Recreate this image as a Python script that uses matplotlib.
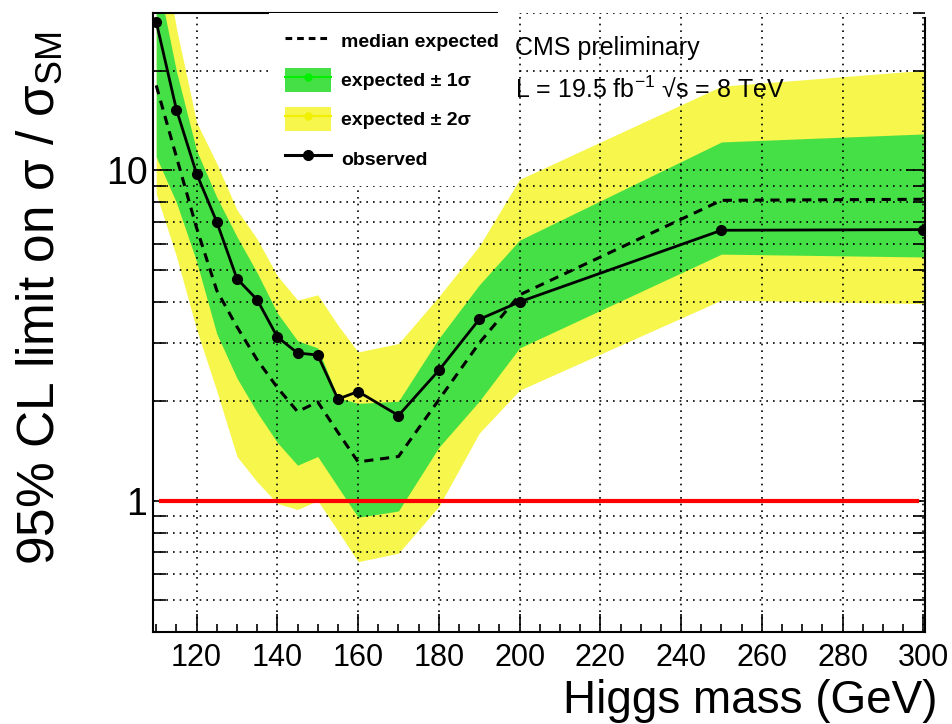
import matplotlib

matplotlib.use("Agg")
import matplotlib.pyplot as plt
from matplotlib.lines import Line2D
from matplotlib.patches import Patch
from matplotlib.ticker import LogLocator, MultipleLocator, FuncFormatter, NullFormatter

plt.rcParams["font.family"] = ["Liberation Sans", "DejaVu Sans"]
plt.rcParams["mathtext.fontset"] = "custom"
plt.rcParams["mathtext.rm"] = "Liberation Sans"
plt.rcParams["mathtext.it"] = "Liberation Sans:italic"

# Higgs mass points (GeV) and 95% CL limits on sigma / sigma_SM
mass = [110, 115, 120, 125, 130, 135, 140, 145, 150, 155, 160, 170, 180, 190, 200, 250, 300]
observed = [28.2, 15.3, 9.78, 6.98, 4.70, 4.06, 3.13, 2.80, 2.76, 2.03, 2.14, 1.81, 2.48, 3.54, 4.0, 6.59, 6.62]
expected = [18.1, 11.0, 6.7, 4.33, 3.36, 2.67, 2.2, 1.86, 1.99, 1.61, 1.31, 1.36, 2.02, 3.0, 4.2, 8.12, 8.18]
exp_1sig_up = [40.0, 20.0, 11.5, 8.3, 6.3, 4.9, 3.7, 3.05, 2.9, 2.05, 1.97, 2.0, 3.1, 4.5, 6.15, 12.2, 12.9]
exp_1sig_dn = [11.0, 8.0, 5.3, 3.2, 2.35, 1.85, 1.5, 1.28, 1.36, 1.1, 0.89, 0.93, 1.45, 2.0, 2.9, 5.58, 5.47]
exp_2sig_up = [60.0, 27.0, 14.0, 10.5, 7.6, 6.2, 4.8, 4.05, 4.2, 3.4, 2.82, 2.99, 4.15, 5.9, 9.4, 18.0, 20.1]
exp_2sig_dn = [8.5, 5.5, 3.3, 2.15, 1.36, 1.14, 0.98, 0.94, 1.0, 0.81, 0.653, 0.693, 0.96, 1.6, 2.16, 4.05, 3.95]

legend_labels = ["median expected", "expected \u00b1 1\u03c3", "expected \u00b1 2\u03c3", "observed"]

GREEN = "#45e045"
YELLOW = "#f6f64c"

fig = plt.figure(figsize=(9.52, 7.24), dpi=100)
ax = fig.add_axes([0.1607, 0.1271, 0.8109, 0.855])

ax.fill_between(mass, exp_2sig_dn, exp_2sig_up, color=YELLOW, lw=0, zorder=1)
ax.fill_between(mass, exp_1sig_dn, exp_1sig_up, color=GREEN, lw=0, zorder=1.1)
ax.axhline(1.0, xmin=0.01, xmax=0.99, color="#ff0000", lw=3.0, zorder=3)
ax.plot(mass, expected, color="k", lw=2.2, ls=(0, (3, 2.2)), zorder=4)
ax.plot(mass, observed, color="k", lw=2.0, marker="o", ms=7, zorder=5)

ax.set_yscale("log")
ax.set_xlim(109.2, 300.4)
ax.set_ylim(0.4, 30)

ax.xaxis.set_major_locator(MultipleLocator(20))
ax.xaxis.set_minor_locator(MultipleLocator(5))
ax.yaxis.set_major_locator(LogLocator(base=10))
ax.yaxis.set_minor_locator(LogLocator(base=10, subs=range(2, 10)))
ax.yaxis.set_major_formatter(FuncFormatter(lambda v, _: f"{v:g}"))
ax.yaxis.set_minor_formatter(NullFormatter())

ax.set_axisbelow(False)
grid_style = dict(color="k", ls=(0, (1, 3)), lw=1.2)
ax.xaxis.grid(True, which="major", **grid_style)
ax.yaxis.grid(True, which="both", **grid_style)

ax.tick_params(axis="x", which="both", direction="in", top=False, labelsize=22, pad=8, width=1.2)
ax.tick_params(axis="x", which="major", length=13)
ax.tick_params(axis="x", which="minor", length=6)
ax.tick_params(axis="y", which="both", direction="in", right=True, labelsize=27, pad=4, width=1.2)
ax.tick_params(axis="y", which="major", length=14)
ax.tick_params(axis="y", which="minor", length=9)

for side in ["left", "right", "bottom", "top"]:
    ax.spines[side].set_linewidth(1.5)
ax.spines["top"].set_bounds(109.2, 194.3)
ax.spines["right"].set_bounds(0.4, 29.0)

handles = [
    Line2D([], [], color="k", lw=2.2, ls=(0, (2.2, 1.6))),
    (Patch(facecolor=GREEN, edgecolor="none"), Line2D([], [], color="#00f000", lw=1.5, marker="o", ms=5)),
    (Patch(facecolor=YELLOW, edgecolor="none"), Line2D([], [], color="#f0f000", lw=1.5, marker="o", ms=5)),
    Line2D([], [], color="k", lw=2.2, marker="o", ms=7),
]
leg = ax.legend(handles, legend_labels, loc="upper left", bbox_to_anchor=(0.1505, 1.0),
                frameon=True, facecolor="white", edgecolor="none", framealpha=1, fancybox=False,
                prop=dict(family="Liberation Sans", weight="bold", size=14),
                handlelength=2.4, handleheight=1.5, labelspacing=0.8, handletextpad=0.5,
                borderpad=0.8, borderaxespad=0)
leg.set_zorder(10)

ax.text(0.469, 0.932, "CMS preliminary", transform=ax.transAxes, fontsize=18, va="baseline", zorder=11)
ax.text(0.469, 0.864, "L = 19.5 fb$^{-1}$ \u221as = 8 TeV", transform=ax.transAxes, fontsize=18,
        va="baseline", zorder=11)

fig.text(0.042, 0.588, "95% CL limit on \u03c3 / \u03c3$_{\\mathrm{SM}}$", rotation=90, ha="center", va="center",
         fontsize=37)
fig.text(0.985, 0.015, "Higgs mass (GeV)", ha="right", va="baseline", fontsize=33)

fig.savefig("out.png", dpi=100)
plt.close(fig)
